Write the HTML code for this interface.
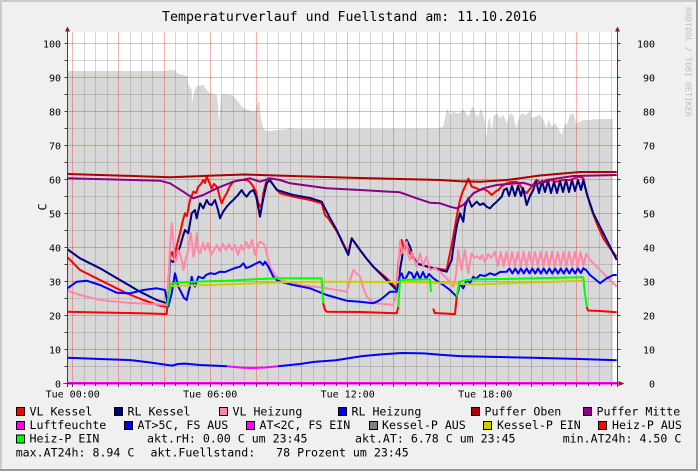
<!DOCTYPE html>
<html><head><meta charset="utf-8"><style>
html,body{margin:0;padding:0;background:#F0F0F0;}
svg{display:block;}
text{font-family:"DejaVu Sans Mono","Liberation Mono",monospace;fill:#000;}
.t{font-size:13.2px;}
.l{font-size:11.6px;white-space:pre;}
.a{font-size:10px;}
</style></head><body>
<svg width="698" height="471" viewBox="0 0 698 471" xmlns="http://www.w3.org/2000/svg">
<rect x="0" y="0" width="698" height="471" fill="#F0F0F0"/>
<rect x="0" y="0" width="698" height="2" fill="#CBCBCB"/>
<rect x="0" y="0" width="2" height="471" fill="#CBCBCB"/>
<rect x="0" y="469" width="698" height="2" fill="#999999"/>
<rect x="696" y="0" width="2" height="471" fill="#999999"/>

<rect x="67.5" y="32" width="550" height="351.5" fill="#FFFFFF"/>

<polygon fill="#D8D8D8" points="67.5,71 165,71 168,70.3 176,70.3 177,73.3 186.7,76 188.3,85 191.7,90 192.3,102.7 194,91.7 196.7,86 203.3,85 206.7,90 209.3,92.7 216.7,95 218,105 219,123.3 220,110 221,95 223.3,94 231.7,95 235,98 238.3,101.7 241.7,106.7 248.3,110 255,111.7 257.3,103.3 259.3,101.7 260.7,116.7 263.3,128.3 266,130.7 270,130.7 286.7,129.3 290,127.7 293.3,129.3 436.7,128.7 443.3,126.7 446,113.3 447.3,108.3 450,115 453.3,111.7 456.7,113.3 460,113.3 463.3,109.3 465,111.7 468.3,116.7 471.7,108.3 473.3,106.7 476,115 478.3,116.7 480.7,108.3 482.7,113.3 485,121.7 486,140 488.3,120 490,118.3 491.7,131.7 493.3,116.7 496.7,113.3 500,118.3 503.3,115 506.7,123.3 510,113.3 513.3,115 516,128.3 518.3,120 521.7,113.3 525,115 528.3,113.3 530,109.3 531.7,118.3 535,116.7 540,115 543.3,120 546.7,128.3 548.3,119.3 551.7,126.7 555,123.3 558.3,128.3 561.7,135 565,123.3 566.7,125 570,115 573.3,113.3 576,123.3 580,121.7 583.3,120 588.3,120.3 593.3,119.3 612.7,119 612.7,383.5 67.5,383.5"/>

<!-- minor grid -->
<g stroke="rgba(110,110,110,0.28)" stroke-width="1">
<path d="M84.5 32V383M95.5 32V383M107.5 32V383M130.5 32V383M141.5 32V383M152.5 32V383M175.5 32V383M187.5 32V383M198.5 32V383M221.5 32V383M233.5 32V383M244.5 32V383M267.5 32V383M278.5 32V383M290.5 32V383M313.5 32V383M324.5 32V383M336.5 32V383M359.5 32V383M370.5 32V383M382.5 32V383M405.5 32V383M416.5 32V383M427.5 32V383M450.5 32V383M462.5 32V383M473.5 32V383M496.5 32V383M508.5 32V383M519.5 32V383M542.5 32V383M553.5 32V383M565.5 32V383M588.5 32V383M599.5 32V383M611.5 32V383"/>
<path d="M67.5 366.5H617M67.5 332.5H617M67.5 298.5H617M67.5 264.5H617M67.5 230.5H617M67.5 196.5H617M67.5 162.5H617M67.5 128.5H617M67.5 94.5H617M67.5 60.5H617"/>
</g>
<!-- major grid -->
<g stroke="rgba(225,20,20,0.33)" stroke-width="1">
<path d="M72.5 32V383M118.5 32V383M164.5 32V383M210.5 32V383M256.5 32V383M301.5 32V383M347.5 32V383M393.5 32V383M439.5 32V383M485.5 32V383M531.5 32V383M576.5 32V383"/>
<path d="M67.5 349.5H617M67.5 315.5H617M67.5 281.5H617M67.5 247.5H617M67.5 213.5H617M67.5 179.5H617M67.5 145.5H617M67.5 111.5H617M67.5 77.5H617M67.5 43.5H617"/>
</g>

<g fill="none" stroke-width="2" stroke-linejoin="round">
<!-- VL Kessel -->
<polyline stroke="#FF0000" points="67.5,257.3 80,270 93.3,276.7 110,285 126.7,293.3 143.3,300 160,305.7 166.7,306.7 168,290 170,256.7 172,252 174,258 177,245 180,233.3 183,220 185,213.3 187,216 190,200 193.3,191.7 196,193 198.3,186.7 201,184 203.3,180 205,183 206.7,176.7 209,182 211.7,188.3 214,184 216.7,186.7 218,190 220,198.3 221.7,203.3 224,198 226.7,193.3 230,186 233.3,181.7 240,180 246.7,180 250,182 253.3,186.7 256,192 258,202 260,206.7 262,204 263.3,193.3 266.7,180 268.3,178.3 273.3,185 280,193.3 293.3,196.7 310,200 321.7,203.3 325,215 328.3,218.3 334,227 340,236.7 344,245 348.3,253.3 351.7,238.3 355,243 360,250 366,258 373.3,266.7 380,272.5 386.7,278.3 392,283.5 396.7,288.3 398.3,263.3 400,250 401.7,240 404,250 406.7,245 409,252 413.3,258 418,264 425,266 433.3,268 440,269 446.7,270 449,258 451.7,245 455,226.7 457,215 460,200 462.5,192 465,186.7 468.3,178.7 471.7,186.7 476,188 480,190 484,189 488.3,191.7 491.7,195 495,192 498.3,190 502,186 506.7,183.3 511,182 516.7,181.7 520,185 523,190 526.7,193.3 529,190 531.7,186.7 536.7,180 541,183 546.7,181.7 551,180 556.7,181.7 563,180 570,180 575,178 580,176.7 583.3,178.3 586.7,193.3 591.7,210 596.7,223.3 603.3,238.3 610,248.3 616.7,256.7"/>
<!-- RL Kessel -->
<polyline stroke="#000080" points="67.5,249.3 80,258.3 100,268.3 120,280 140,291.7 156.7,300 167.3,303.3 168.5,290 170,260 173,262 175,260 178,252 180,246.7 183,236 185,230 188.3,233.3 191.7,213.3 195,210 196.7,218.3 200,203.3 203.3,208.3 206.7,200 209,204 211.7,205 215,200 218,210 220,218.3 223,212 226.7,206.7 230,203 233.3,200 238,195 241.7,190 244,194 246.7,196.7 250,192 253.3,190 256,196 258,206 260,216.7 263,200 266.7,183.3 270,180 276.7,190 293.3,195 310,198 321.7,201.7 325,208.3 330,218 336.7,230 342,242 348.3,255 351.7,238.3 355,243 360,250 366,258 373.3,266.7 383,276.5 393.3,286.7 396.7,290 400,270 403,252 406.7,240 410,246.7 413,256 416.7,263.3 425,266 433.3,268.3 446.7,271.7 449,266 451.7,260 453,250 455,236.7 457,225 460,213.3 463.3,221.7 465,206.7 468.3,198.3 471.7,206.7 476.7,201.7 480,205 483.3,203.3 487,207 490,208.3 493,205 496.7,201.7 501.7,196.7 504,190 506.7,188.3 509,196 512,186 515,196 518,186 521,196 523,188 526.7,205 530,196 533.3,190 536,181 539,193 542,181 545,192 548,181 551,193 554,182 557,193 560,181 563,192 566,180 569,192 572,180 575,191 578,180 581,190 583.3,180 586.7,193.3 593.3,213.3 600,226.7 606.7,240 616.7,260"/>
<!-- VL Heizung -->
<polyline stroke="#FF88A8" points="67.5,290.7 80,295 100,300 126.7,302.7 153.3,304 166.7,305 168.5,285 170,246.7 171.7,223.3 173.3,240 175,262 176.7,260 178,250 180,253.3 182,262 183.3,270 186,258 188.3,250 190,236 191,233.3 193.3,256.7 195,250 196.7,233.3 198,250 200,253.3 203,243 205,250 208,243 211,255 214,250 217,245 220,251 223,244 226,250 229,244 232,250 235,245 238,255 241,245 243.3,250 246,242 249,248 252,240 255,255 258,245 260,241.7 263,243 265,246.7 268,258 270,266.7 275,275 280,280 300,285 326.7,288.3 346.7,291.7 350,280 353.3,270 356,273 360,276.7 363,287 366.7,296.7 370,300 376.7,303.3 393.3,305 396.7,293.3 398.5,265 400,240 401.5,248 403.3,253.3 405,245 406.7,241.7 408,255 410,260 412,252 413.3,256.7 415,262 416.7,266.7 418,260 420,253.3 422,262 423.3,266.7 425,260 426.7,256.7 428,262 430,270 435,268.3 441.7,273.3 450,281.7 453.3,286.7 456,275 458.3,250 460,262 461.7,270 463,260 465,250 466.5,262 468.3,273.3 470,262 471.7,253.3 474,258 477,256 480,259 482,255 485,262 488,254 491,258 495,252 497.9,266 500.7,252 503.6,266 506.4,252 509.3,266 512.1,252 515,266 517.8,252 520.7,266 523.5,252 526.4,266 529.2,252 532.1,266 534.9,252 537.8,266 540.6,252 543.5,266 546.3,252 549.2,266 552,252 554.9,266 557.7,252 560.6,266 563.4,252 566.3,266 569.1,252 572,266 574.8,252 577.7,266 580.5,252 583.4,266 586.2,254 590,260 596.7,266.7 606.7,276.7 616.7,286.7"/>
<!-- RL Heizung -->
<polyline stroke="#0000FF" points="67.5,288.3 76.7,281.7 86.7,280.7 100,285 116.7,292.7 130,293.3 143.3,290 156.7,288.3 165,290 168.3,306.7 171.7,293.3 175,273.3 178.3,286.7 181.7,293.3 184,298 186.7,300 188.5,292 190,286.7 191.7,276.7 193.5,284 195,286.7 198.3,276.7 203.3,278.3 206,275 210,273.3 215,274 220,271.7 225,272 230,270 235,268 240,266.7 243.3,263.3 246,268 250,266.7 255,264 260,261.7 263,265 265,261.7 268,266 270,270 273.3,276.7 276.7,280 280,281.7 293.3,285 310,288.3 326.7,295 346.7,300.7 360,301.7 373.3,303.3 380,300 385,296 390,291.7 396.7,291.7 398,285 400,275 401.7,273.3 404,280 406.7,276.7 409,272 411.7,273.3 414,279 417,272 420,279 423,272 426,279 429,274 433.3,278.3 443.3,285 450,290 453.3,293.3 456.7,296.7 458.5,290 460,283.3 463.3,288.3 466.7,280 470,283 473.3,276.7 476,279 480,275 485,276 490,273.3 495,275 500,272 506.7,271.7 509.5,268.5 512.4,273.5 515.2,268.5 518.1,273.5 520.9,268.5 523.8,273.5 526.6,268.5 529.5,273.5 532.3,268.5 535.2,273.5 538,268.5 540.9,273.5 543.7,268.5 546.6,273.5 549.4,268.5 552.3,273.5 555.1,268.5 558,273.5 560.8,268.5 563.7,273.5 566.5,268.5 569.4,273.5 572.2,268.5 575.1,273.5 577.9,268.5 580.8,273 583.3,268.3 586,270 590,275 595,279 600,283.3 603,281 606.7,278.3 613.3,275 616.7,275"/>
<!-- Puffer Oben -->
<polyline stroke="#AA0000" points="67.5,174 100,175 140,176.2 170,177.2 190,176.5 215,175.5 245,174.5 260,175 300,176.2 360,178 400,179 440,180 460,181.2 480,181.7 506.7,180 540,175.5 580,172 616.7,172"/>
<!-- Puffer Mitte -->
<polyline stroke="#880088" points="67.5,178.3 160,180.7 170,183.3 183.3,191.7 193.3,198.3 203.3,195 216.7,188.3 233.3,181.7 250,178.3 260,181.7 270,178.3 280,180 290,183.3 326.7,188.3 360,190 400,192.3 416.7,198.3 430,202.7 440,203.3 450,206.7 456.7,208.3 463.3,205 473.3,193.3 483.3,188.3 496.7,185 523.3,182.7 533.3,186 546.7,180 573.3,176 616.7,175"/>
<!-- Luftfeuchte -->
<line x1="67.5" y1="383.3" x2="617" y2="383.3" stroke="#FF00FF" stroke-width="2.5"/>
<!-- AT -->
<polyline stroke="#0000FF" points="67.5,357.8 100,359 132,360.2 150,362.5 172,365.6 178,364 185,363.6 200,365 227,366.3"/>
<polyline stroke="#FF00FF" points="227,366.3 240,367.5 249,368 265,367.5 278,366.3"/>
<polyline stroke="#0000FF" points="278,366.3 300,364 314,361.9 336,360.2 350,358 362,356.1 380,354.5 402,353 424,353.4 440,354.8 460,356.1 500,357 533,357.8 580,359 616.7,360.2"/>
<!-- Kessel-P EIN -->
<polyline stroke="#CCCC00" points="170,286 200,285.3 240,284 280,282.3 320,281.7 400,282 440,282.7 473.3,284.5 506.7,283.3 583.3,280.7 585,281"/>
<!-- Heiz-P AUS -->
<polyline stroke="#FF0000" points="67.5,311.7 100,312.5 140,313.3 166.7,314 167.3,306.7"/>
<polyline stroke="#FF0000" points="323,303 325,310 326.7,311.7 360,312 396.7,313.3 398.3,306.7"/>
<polyline stroke="#FF0000" points="433.3,308.5 434.5,313 453.3,314 455,314 456.7,297"/>
<polyline stroke="#FF0000" points="586.7,307 588,310.5 600,311 616.7,312.3"/>
<!-- Heiz-P EIN -->
<polyline stroke="#00FF00" points="167.3,306.7 168.5,295 171,284 175,283 193.3,281.7 226.7,280.7 260,279 280,278.3 321.7,278.3 323,303.3"/>
<polyline stroke="#00FF00" points="398.3,306.7 400,280 430,279.3 431,292"/>
<polyline stroke="#00FF00" points="456.7,296.7 459.3,281.7 470,279.5 500,279 583.3,277.3 584.5,290 586.7,306.7"/>
</g>

<!-- axes -->
<g stroke="#404040" stroke-width="1">
<line x1="67.5" y1="30" x2="67.5" y2="387"/>
<line x1="617.5" y1="30" x2="617.5" y2="387"/>
<line x1="63" y1="383.5" x2="619" y2="383.5" stroke="rgba(60,0,60,0.6)"/>
<path d="M64.5 383.5H67.5M64.5 366.5H67.5M64.5 349.5H67.5M64.5 332.5H67.5M64.5 315.5H67.5M64.5 298.5H67.5M64.5 281.5H67.5M64.5 264.5H67.5M64.5 247.5H67.5M64.5 230.5H67.5M64.5 213.5H67.5M64.5 196.5H67.5M64.5 179.5H67.5M64.5 162.5H67.5M64.5 145.5H67.5M64.5 128.5H67.5M64.5 111.5H67.5M64.5 94.5H67.5M64.5 77.5H67.5M64.5 60.5H67.5M64.5 43.5H67.5"/>
<path d="M617.5 366.5H620.5M617.5 349.5H620.5M617.5 332.5H620.5M617.5 315.5H620.5M617.5 298.5H620.5M617.5 281.5H620.5M617.5 264.5H620.5M617.5 247.5H620.5M617.5 230.5H620.5M617.5 213.5H620.5M617.5 196.5H620.5M617.5 179.5H620.5M617.5 162.5H620.5M617.5 145.5H620.5M617.5 128.5H620.5M617.5 111.5H620.5M617.5 94.5H620.5M617.5 77.5H620.5M617.5 60.5H620.5M617.5 43.5H620.5"/>
<path d="M72.5 384V387M118.5 384V387M164.5 384V387M210.5 384V387M256.5 384V387M301.5 384V387M347.5 384V387M393.5 384V387M439.5 384V387M485.5 384V387M531.5 384V387M576.5 384V387"/>
<path d="M84.5 384V386M95.5 384V386M107.5 384V386M130.5 384V386M141.5 384V386M152.5 384V386M175.5 384V386M187.5 384V386M198.5 384V386M221.5 384V386M233.5 384V386M244.5 384V386M267.5 384V386M278.5 384V386M290.5 384V386M313.5 384V386M324.5 384V386M336.5 384V386M359.5 384V386M370.5 384V386M382.5 384V386M405.5 384V386M416.5 384V386M427.5 384V386M450.5 384V386M462.5 384V386M473.5 384V386M496.5 384V386M508.5 384V386M519.5 384V386M542.5 384V386M553.5 384V386M565.5 384V386M588.5 384V386M599.5 384V386M611.5 384V386"/>
</g>
<g fill="#802020">
<polygon points="67.5,26.5 65,31.5 70,31.5"/>
<polygon points="617.5,26.5 615,31.5 620,31.5"/>
<polygon points="624.5,383.5 618.5,381 618.5,386"/>
</g>

<!-- title -->
<text class="t" x="162" y="21" textLength="375" lengthAdjust="spacing">Temperaturverlauf und Fuellstand am: 11.10.2016</text>

<!-- watermark -->
<text x="0" y="0" transform="translate(685.5,7) rotate(90)" style="font-size:8.3px;fill:#BDBDBD">RRDTOOL / TOBI OETIKER</text>

<!-- y label -->
<text class="l" text-anchor="middle" transform="translate(46.5,207) rotate(-90)">C</text>

<!-- y axis labels left -->
<g class="a" text-anchor="end">
<text class="a" x="61" y="387.5">0</text>
<text class="a" x="61" y="353.5">10</text>
<text class="a" x="61" y="319.5">20</text>
<text class="a" x="61" y="285.5">30</text>
<text class="a" x="61" y="251.5">40</text>
<text class="a" x="61" y="217.5">50</text>
<text class="a" x="61" y="183.5">60</text>
<text class="a" x="61" y="149.5">70</text>
<text class="a" x="61" y="115.5">80</text>
<text class="a" x="61" y="81.5">90</text>
<text class="a" x="61" y="47.5">100</text>
</g>
<g text-anchor="end">
<text class="a" x="655" y="387.5">0</text>
<text class="a" x="655" y="353.5">10</text>
<text class="a" x="655" y="319.5">20</text>
<text class="a" x="655" y="285.5">30</text>
<text class="a" x="655" y="251.5">40</text>
<text class="a" x="655" y="217.5">50</text>
<text class="a" x="655" y="183.5">60</text>
<text class="a" x="655" y="149.5">70</text>
<text class="a" x="655" y="115.5">80</text>
<text class="a" x="655" y="81.5">90</text>
<text class="a" x="655" y="47.5">100</text>
</g>
<!-- x axis labels -->
<g text-anchor="middle">
<text class="a" x="72.7" y="397.3">Tue 00:00</text>
<text class="a" x="210.2" y="397.3">Tue 06:00</text>
<text class="a" x="347.7" y="397.3">Tue 12:00</text>
<text class="a" x="485.2" y="397.3">Tue 18:00</text>
</g>

<!-- legend boxes -->
<g stroke="#000" stroke-width="1">
<rect x="16.5" y="407.5" width="8" height="8" fill="#FF0000"/>
<rect x="114.5" y="407.5" width="8" height="8" fill="#000080"/>
<rect x="219.5" y="407.5" width="8" height="8" fill="#FF88A0"/>
<rect x="338.5" y="407.5" width="8" height="8" fill="#0000FF"/>
<rect x="471.5" y="407.5" width="8" height="8" fill="#AA0000"/>
<rect x="583.5" y="407.5" width="8" height="8" fill="#880088"/>
<rect x="16.5" y="421.5" width="8" height="8" fill="#FF00FF"/>
<rect x="124.5" y="421.5" width="8" height="8" fill="#0000FF"/>
<rect x="246.5" y="421.5" width="8" height="8" fill="#FF00FF"/>
<rect x="369.5" y="421.5" width="8" height="8" fill="#808080"/>
<rect x="483.5" y="421.5" width="8" height="8" fill="#CCCC00"/>
<rect x="598.5" y="421.5" width="8" height="8" fill="#FF0000"/>
<rect x="16.5" y="435" width="8" height="8" fill="#00FF00"/>
</g>
<text class="l" x="29.5" y="415.3">VL Kessel</text>
<text class="l" x="127.5" y="415.3">RL Kessel</text>
<text class="l" x="232.5" y="415.3">VL Heizung</text>
<text class="l" x="351.5" y="415.3">RL Heizung</text>
<text class="l" x="484.5" y="415.3">Puffer Oben</text>
<text class="l" x="596.5" y="415.3">Puffer Mitte</text>
<text class="l" x="29.5" y="429">Luftfeuchte</text>
<text class="l" x="137.5" y="429">AT&gt;5C, FS AUS</text>
<text class="l" x="259.5" y="429">AT&lt;2C, FS EIN</text>
<text class="l" x="382" y="429">Kessel-P AUS</text>
<text class="l" x="497" y="429">Kessel-P EIN</text>
<text class="l" x="612" y="429">Heiz-P AUS</text>
<text class="l" x="29.5" y="442.7">Heiz-P EIN</text>
<text class="l" x="147" y="442.7">akt.rH: 0.00 C um 23:45</text>
<text class="l" x="355" y="442.7">akt.AT: 6.78 C um 23:45</text>
<text class="l" x="562.7" y="442.7">min.AT24h: 4.50 C</text>
<text class="l" x="15.7" y="456.5">max.AT24h: 8.94 C</text>
<text class="l" x="150.5" y="456.5" xml:space="preserve">akt.Fuellstand:   78 Prozent um 23:45</text>
</svg>
</body></html>
